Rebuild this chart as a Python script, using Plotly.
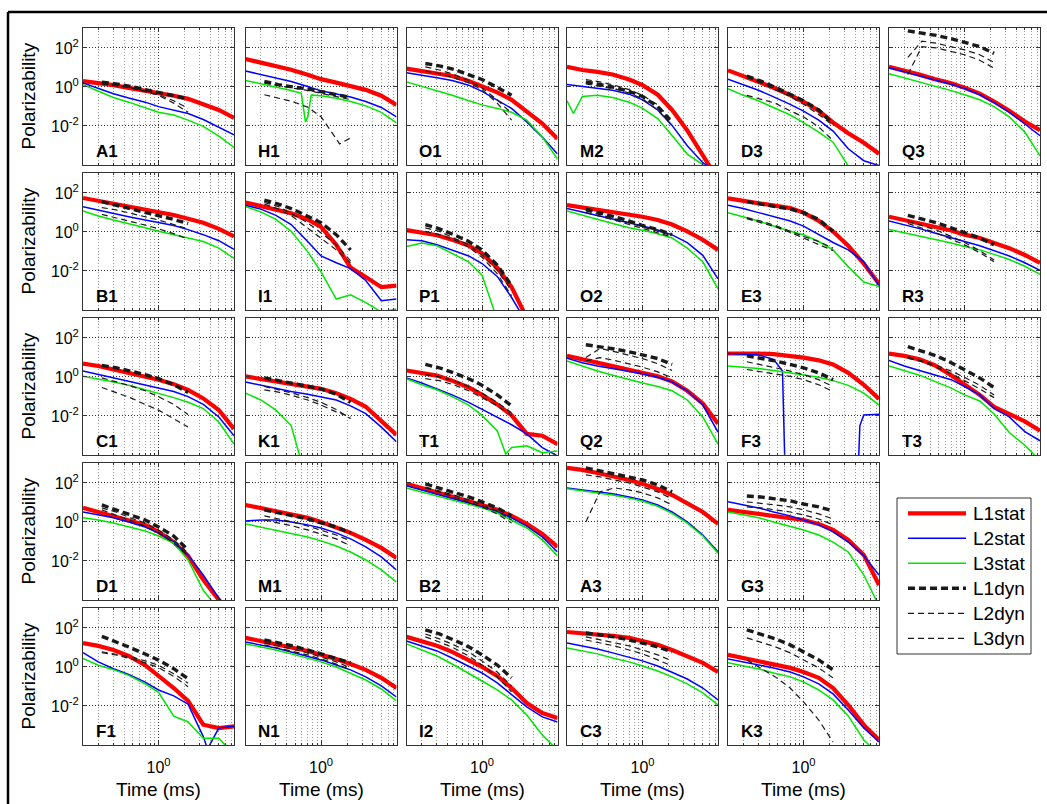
import plotly.graph_objects as go

# ---------------------------------------------------------------- data
PANELS = ["A1", "H1", "O1", "M2", "D3", "Q3",
          "B1", "I1", "P1", "O2", "E3", "R3",
          "C1", "K1", "T1", "Q2", "F3", "T3",
          "D1", "M1", "B2", "A3", "G3",
          "F1", "N1", "I2", "C3", "K3"]

# sampling times (ms)
T_STAT = [0.133, 0.2, 0.3, 0.45, 0.7, 1.0, 1.5, 2.2, 3.3, 5.0, 7.5]
T_DYN = [0.22, 0.32, 0.47, 0.7, 1.0, 1.5, 2.2]

# log10 polarizability, one row per panel (order of PANELS)
L1STAT = [
    [0.30, 0.21, 0.09, -0.05, -0.19, -0.31, -0.45, -0.61, -0.92, -1.18, -1.58],   # A1
    [1.43, 1.25, 1.07, 0.88, 0.62, 0.40, 0.22, 0.05, -0.15, -0.45, -0.92],        # H1
    [0.94, 0.82, 0.70, 0.56, 0.30, 0.03, -0.28, -0.66, -1.27, -1.88, -2.66],      # O1
    [1.03, 0.87, 0.77, 0.64, 0.38, 0.09, -0.40, -1.18, -2.23, -3.44, -4.75],      # M2
    [0.85, 0.55, 0.30, -0.04, -0.42, -0.76, -1.22, -1.82, -2.37, -2.86, -3.42],   # D3
    [1.03, 0.84, 0.63, 0.40, 0.19, -0.04, -0.34, -0.75, -1.22, -1.77, -2.22],     # Q3
    [1.74, 1.60, 1.46, 1.30, 1.17, 1.03, 0.87, 0.68, 0.47, 0.16, -0.23],          # B1
    [1.51, 1.34, 1.13, 0.96, 0.64, 0.26, -0.66, -1.83, -2.31, -2.83, -2.75],      # I1
    [0.09, -0.02, -0.17, -0.40, -0.70, -1.10, -1.83, -2.83, -4.40, -5.5, -6.5],   # P1
    [1.37, 1.25, 1.13, 1.03, 0.90, 0.78, 0.61, 0.38, 0.03, -0.40, -0.92],         # O2
    [1.72, 1.60, 1.51, 1.37, 1.22, 0.99, 0.57, 0.02, -0.70, -1.63, -2.66],        # E3
    [0.78, 0.61, 0.43, 0.26, 0.07, -0.14, -0.31, -0.57, -0.83, -1.18, -1.58],     # R3
    [0.68, 0.56, 0.38, 0.21, 0.03, -0.14, -0.37, -0.66, -1.10, -1.70, -2.66],     # C1
    [0.03, -0.09, -0.23, -0.37, -0.49, -0.61, -0.83, -1.13, -1.53, -2.23, -2.97], # K1
    [0.33, 0.21, 0.07, -0.19, -0.54, -0.92, -1.41, -1.97, -2.92, -3.01, -3.44],   # T1
    [1.08, 0.90, 0.73, 0.56, 0.38, 0.24, 0.03, -0.23, -0.71, -1.36, -2.40],       # Q2
    [1.20, 1.22, 1.20, 1.17, 1.08, 0.99, 0.85, 0.64, 0.21, -0.40, -1.13],         # F3
    [1.20, 1.08, 0.90, 0.60, 0.09, -0.40, -0.92, -1.53, -1.93, -2.28, -2.75],     # T3
    [0.72, 0.51, 0.31, 0.10, -0.15, -0.51, -1.03, -1.74, -2.97, -4.0, -4.8],      # D1
    [0.87, 0.72, 0.56, 0.41, 0.21, 0.0, -0.26, -0.56, -0.92, -1.33, -1.85],       # M1
    [1.95, 1.74, 1.54, 1.33, 1.08, 0.87, 0.62, 0.31, -0.10, -0.62, -1.28],        # B2
    [2.77, 2.67, 2.51, 2.36, 2.15, 1.95, 1.69, 1.38, 0.97, 0.51, -0.10],          # A3
    [0.62, 0.51, 0.41, 0.31, 0.21, 0.10, -0.10, -0.41, -0.92, -1.69, -3.23],      # G3
    [1.22, 1.08, 0.87, 0.56, 0.09, -0.43, -1.08, -1.74, -2.96, -3.13, -3.04],     # F1
    [1.49, 1.33, 1.18, 1.03, 0.82, 0.62, 0.41, 0.15, -0.15, -0.56, -1.08],        # N1
    [1.54, 1.33, 1.08, 0.77, 0.36, 0.0, -0.46, -1.08, -1.85, -2.36, -2.62],       # I2
    [1.79, 1.74, 1.69, 1.59, 1.49, 1.33, 1.13, 0.87, 0.56, 0.21, -0.26],          # C3
    [0.62, 0.46, 0.31, 0.15, -0.05, -0.26, -0.56, -1.08, -1.95, -2.97, -3.74],    # K3
]

L2STAT = [
    [0.21, -0.09, -0.35, -0.57, -0.78, -1.01, -1.18, -1.36, -1.67, -2.05, -2.45], # A1
    [0.82, 0.64, 0.47, 0.28, 0.02, -0.20, -0.36, -0.52, -0.75, -1.05, -1.53],     # H1
    [0.73, 0.61, 0.47, 0.33, 0.09, -0.23, -0.66, -1.10, -1.79, -2.57, -3.44],     # O1
    [0.12, 0.03, -0.05, -0.17, -0.37, -0.66, -1.18, -1.97, -3.01, -3.88, -4.40],  # M2
    [0.40, 0.12, -0.17, -0.51, -0.89, -1.24, -1.70, -2.26, -3.17, -3.78, -4.03],  # D3
    [0.98, 0.78, 0.58, 0.36, 0.14, -0.08, -0.40, -0.80, -1.30, -1.90, -2.50],     # Q3
    [1.29, 1.11, 0.96, 0.78, 0.61, 0.47, 0.33, 0.12, -0.14, -0.45, -0.89],        # B1
    [1.37, 1.17, 0.85, 0.38, -0.49, -1.23, -1.58, -1.88, -2.49, -3.53, -3.44],    # I1
    [-0.40, -0.45, -0.66, -0.92, -1.23, -1.62, -2.28, -3.36, -4.7, -6.0, -7.0],   # P1
    [1.20, 1.02, 0.85, 0.68, 0.47, 0.30, 0.10, -0.15, -0.55, -1.20, -2.40],       # O2
    [1.37, 1.20, 0.99, 0.78, 0.56, 0.30, -0.14, -0.54, -0.92, -1.53, -2.75],      # E3
    [0.56, 0.38, 0.17, -0.05, -0.31, -0.49, -0.71, -0.96, -1.23, -1.58, -1.97],   # R3
    [0.30, 0.12, -0.05, -0.23, -0.40, -0.57, -0.75, -1.01, -1.41, -2.05, -3.01],  # C1
    [-0.26, -0.43, -0.61, -0.75, -0.89, -1.01, -1.18, -1.48, -1.88, -2.57, -3.32],# K1
    [-0.05, -0.31, -0.61, -0.92, -1.30, -1.65, -2.05, -2.45, -2.92, -3.62, -4.05],# T1
    [0.96, 0.73, 0.56, 0.42, 0.30, 0.16, -0.02, -0.26, -0.71, -1.44, -2.83],      # Q2
    [1.20, 1.17, 1.13, 0.90, -6.0, -6.0, -6.0, -6.0, -6.0, -1.95, -1.91],         # F3
    [0.85, 0.56, 0.33, 0.12, -0.14, -0.49, -0.92, -1.62, -2.05, -2.80, -3.27],    # T3
    [0.51, 0.36, 0.21, 0.0, -0.26, -0.56, -1.03, -1.69, -2.72, -3.9, -4.8],       # D1
    [0.05, 0.10, 0.10, 0.0, -0.15, -0.31, -0.56, -0.87, -1.28, -1.79, -2.46],     # M1
    [1.85, 1.64, 1.44, 1.23, 0.97, 0.77, 0.51, 0.21, -0.21, -0.77, -1.54],        # B2
    [1.74, 1.64, 1.54, 1.44, 1.28, 1.13, 0.87, 0.51, 0.0, -0.67, -1.54],          # A3
    [1.03, 0.87, 0.72, 0.51, 0.31, 0.10, -0.15, -0.51, -1.03, -1.74, -2.72],      # G3
    [0.73, 0.26, -0.09, -0.38, -0.78, -1.18, -1.48, -1.91, -3.57, -3.13, -3.04],  # F1
    [1.28, 1.13, 0.97, 0.77, 0.56, 0.36, 0.10, -0.15, -0.51, -0.97, -1.54],       # N1
    [1.33, 1.08, 0.82, 0.46, 0.05, -0.31, -0.82, -1.44, -2.05, -2.56, -2.82],     # I2
    [1.23, 1.08, 0.92, 0.72, 0.51, 0.31, 0.05, -0.26, -0.62, -1.08, -1.69],       # C3
    [0.41, 0.26, 0.10, -0.05, -0.26, -0.51, -0.87, -1.38, -2.21, -3.13, -3.85],   # K3
]

L3STAT = [
    [0.12, -0.23, -0.54, -0.78, -1.06, -1.30, -1.44, -1.70, -2.02, -2.52, -3.10], # A1
    [0.33, 0.16, 0.0, -0.18, -1.55, -0.45, -0.58, -0.75, -0.97, -1.30, -1.84],    # H1
    [0.26, 0.03, -0.19, -0.43, -0.71, -0.92, -1.10, -1.30, -1.70, -2.57, -3.70],  # O1
    [-0.71, -0.49, -0.43, -0.54, -0.78, -1.10, -1.62, -2.49, -3.44, -3.98, -4.57],# M2
    [-0.09, -0.43, -0.71, -1.06, -1.44, -1.83, -2.31, -2.83, -4.05, -4.6, -5.0],  # D3
    [0.68, 0.47, 0.26, 0.03, -0.19, -0.40, -0.66, -1.01, -1.53, -2.31, -3.53],    # Q3
    [1.08, 0.82, 0.61, 0.43, 0.21, 0.03, -0.14, -0.31, -0.49, -0.83, -1.36],      # B1
    [1.30, 1.03, 0.64, 0.03, -1.01, -2.05, -3.44, -3.22, -3.62, -4.1, -3.95],     # I1
    [-0.75, -0.57, -0.71, -1.10, -1.53, -2.22, -4.5, -6.0, -7.0, -7.0, -7.0],     # P1
    [1.08, 0.85, 0.64, 0.43, 0.21, 0.09, -0.09, -0.31, -0.83, -1.53, -2.92],      # O2
    [0.99, 0.78, 0.56, 0.30, 0.03, -0.14, -0.49, -0.92, -1.79, -2.57, -2.80],     # E3
    [0.12, -0.05, -0.19, -0.37, -0.57, -0.75, -0.92, -1.15, -1.41, -1.76, -2.17], # R3
    [0.03, -0.10, -0.26, -0.43, -0.66, -0.83, -1.06, -1.30, -1.62, -2.31, -3.44], # C1
    [-0.83, -1.18, -1.70, -2.49, -5.5, -7.0, -7.0, -7.0, -7.0, -7.0, -7.0],       # K1
    [-0.09, -0.40, -0.66, -1.01, -1.44, -1.97, -2.75, -3.62, -3.53, -3.88, -3.79],# T1
    [0.82, 0.56, 0.30, 0.09, -0.14, -0.31, -0.49, -0.71, -1.18, -2.05, -3.44],    # Q2
    [0.56, 0.50, 0.43, 0.33, 0.21, 0.12, -0.02, -0.19, -0.43, -0.83, -1.44],      # F3
    [0.56, 0.33, 0.09, -0.23, -0.57, -0.92, -1.23, -1.90, -2.85, -3.50, -4.30],   # T3
    [0.21, 0.10, -0.05, -0.26, -0.46, -0.72, -1.08, -1.95, -3.5, -4.5, -5.0],     # D1
    [-0.10, -0.26, -0.41, -0.56, -0.77, -0.97, -1.23, -1.54, -1.95, -2.46, -3.08],# M1
    [1.74, 1.54, 1.33, 1.13, 0.92, 0.72, 0.46, 0.10, -0.31, -0.92, -1.74],        # B2
    [1.70, 1.60, 1.50, 1.38, 1.22, 1.06, 0.80, 0.44, -0.06, -0.72, -1.60],        # A3
    [0.51, 0.36, 0.21, 0.0, -0.21, -0.41, -0.67, -1.03, -1.54, -2.72, -4.3],      # G3
    [0.43, 0.09, -0.14, -0.43, -0.87, -1.30, -2.52, -2.82, -3.65, -3.65, -4.5],   # F1
    [1.18, 1.03, 0.87, 0.67, 0.46, 0.26, 0.0, -0.31, -0.67, -1.13, -1.74],        # N1
    [1.18, 0.87, 0.56, 0.15, -0.31, -0.72, -1.18, -1.69, -2.46, -3.49, -4.26],    # I2
    [0.97, 0.82, 0.67, 0.46, 0.26, 0.05, -0.21, -0.51, -0.87, -1.33, -1.95],      # C3
    [0.21, 0.05, -0.10, -0.31, -0.51, -0.77, -1.18, -1.69, -2.51, -3.74, -4.5],   # K3
]

L1DYN = [
    [0.24, 0.16, 0.03, -0.14, -0.31, -0.45, -0.61],   # A1
    [0.28, 0.12, 0.0, -0.10, -0.24, -0.38, -0.54],    # H1
    [1.20, 1.08, 0.90, 0.64, 0.38, -0.02, -0.43],     # O1
    [0.26, 0.12, -0.02, -0.23, -0.49, -1.01, -1.88],  # M2
    [0.56, 0.30, -0.02, -0.37, -0.71, -1.18, -1.88],  # D3
    [2.87, 2.77, 2.64, 2.47, 2.30, 2.07, 1.72],       # Q3
    [1.55, 1.37, 1.20, 1.03, 0.85, 0.64, 0.43],       # B1
    [1.63, 1.43, 1.17, 0.82, 0.47, -0.14, -0.92],     # I1
    [0.38, 0.16, -0.14, -0.49, -0.92, -1.70, -2.75],  # P1
    [1.17, 0.99, 0.78, 0.56, 0.33, 0.12, -0.14],      # O2
    [1.55, 1.43, 1.30, 1.17, 0.99, 0.64, 0.03],       # E3
    [0.85, 0.68, 0.47, 0.21, -0.02, -0.31, -0.66],    # R3
    [0.59, 0.47, 0.30, 0.12, -0.09, -0.40, -0.80],    # C1
    [-0.05, -0.19, -0.31, -0.45, -0.61, -0.89, -1.30],# K1
    [0.64, 0.47, 0.21, -0.09, -0.43, -0.92, -1.48],   # T1
    [1.65, 1.55, 1.43, 1.29, 1.13, 0.94, 0.64],       # Q2
    [1.08, 0.96, 0.82, 0.64, 0.47, 0.21, -0.14],      # F3
    [1.55, 1.34, 1.08, 0.73, 0.38, -0.05, -0.54],     # T3
    [0.87, 0.62, 0.36, 0.10, -0.26, -0.72, -1.44],    # D1
    [0.62, 0.46, 0.31, 0.15, -0.05, -0.26, -0.56],    # M1
    [1.95, 1.74, 1.54, 1.28, 1.03, 0.72, 0.31],       # B2
    [2.77, 2.62, 2.46, 2.31, 2.15, 1.90, 1.54],       # A3
    [1.33, 1.28, 1.18, 1.08, 0.92, 0.77, 0.56],       # G3
    [1.57, 1.30, 0.99, 0.66, 0.35, -0.09, -0.61],     # F1
    [1.38, 1.23, 1.08, 0.87, 0.67, 0.46, 0.21],       # N1
    [1.90, 1.69, 1.38, 1.03, 0.62, 0.10, -0.56],      # I2
    [1.74, 1.64, 1.54, 1.38, 1.23, 1.03, 0.77],       # C3
    [1.90, 1.69, 1.44, 1.13, 0.77, 0.36, -0.15],      # K3
]

L2DYN = [
    [0.19, 0.10, -0.02, -0.23, -0.43, -0.83, -1.30],  # A1
    [0.20, 0.06, -0.06, -0.18, -0.32, -0.47, -0.65],  # H1
    [1.03, 0.87, 0.64, 0.33, -0.05, -0.66, -1.36],    # O1
    [0.38, 0.26, 0.09, -0.14, -0.43, -0.92, -1.70],   # M2
    [-0.43, -0.61, -0.83, -1.23, -1.53, -2.05, -2.75],# D3
    [1.51, 2.35, 2.24, 2.07, 1.90, 1.65, 1.25],       # Q3
    [1.25, 1.13, 0.96, 0.78, 0.61, 0.38, 0.16],       # B1
    [1.51, 1.30, 0.90, 0.47, -0.05, -0.66, -1.48],    # I1
    [0.21, 0.03, -0.31, -0.66, -1.18, -1.97, -3.01],  # P1
    [1.08, 0.90, 0.68, 0.47, 0.26, 0.03, -0.19],      # O2
    [0.73, 0.56, 0.33, 0.03, -0.23, -0.49, -0.83],    # E3
    [0.56, 0.33, 0.09, -0.23, -0.54, -0.96, -1.44],   # R3
    [-0.05, -0.23, -0.45, -0.71, -1.01, -1.41, -1.93],# C1
    [-0.49, -0.66, -0.83, -1.06, -1.30, -1.67, -2.14],# K1
    [0.12, 0.0, -0.19, -0.49, -0.83, -1.30, -1.83],   # T1
    [0.99, 1.46, 1.30, 1.13, 0.94, 0.68, 0.33],       # Q2
    [0.78, 0.64, 0.47, 0.30, 0.12, -0.14, -0.49],     # F3
    [1.03, 0.82, 0.61, 0.30, -0.02, -0.43, -0.92],    # T3
    [0.72, 0.51, 0.21, -0.05, -0.41, -0.92, -1.59],   # D1
    [0.31, 0.15, 0.0, -0.21, -0.41, -0.67, -0.97],    # M1
    [1.79, 1.59, 1.38, 1.13, 0.87, 0.56, 0.10],       # B2
    [2.41, 2.31, 2.15, 2.0, 1.79, 1.54, 1.18],        # A3
    [1.03, 0.97, 0.87, 0.77, 0.62, 0.41, 0.15],       # G3
    [0.78, 0.66, 0.52, 0.31, 0.09, -0.35, -0.83],     # F1
    [1.23, 1.08, 0.92, 0.72, 0.51, 0.26, -0.05],      # N1
    [1.69, 1.44, 1.13, 0.77, 0.31, -0.26, -0.97],     # I2
    [1.54, 1.38, 1.23, 1.08, 0.87, 0.62, 0.31],       # C3
    [1.49, 1.28, 1.03, 0.72, 0.36, -0.05, -0.56],     # K3
]

L3DYN = [
    [0.16, 0.07, -0.05, -0.23, -0.40, -0.71, -1.10],  # A1
    [-0.40, -0.57, -0.75, -1.04, -1.53, -2.66, -2.61],# H1
    [0.82, 0.68, 0.47, 0.21, -0.14, -0.83, -1.70],    # O1
    [0.16, 0.03, -0.10, -0.31, -0.61, -1.18, -1.97],  # M2
    [0.47, 0.21, -0.14, -0.49, -0.89, -1.41, -1.97],  # D3
    [0.64, 2.07, 2.00, 1.83, 1.65, 1.37, 0.96],       # Q3
    [0.90, 0.73, 0.56, 0.35, 0.16, -0.09, -0.37],     # B1
    [1.43, 1.17, 0.78, 0.21, -0.31, -0.92, -1.58],    # I1
    [0.03, -0.14, -0.40, -0.78, -1.30, -2.14, -3.27], # P1
    [0.99, 0.82, 0.61, 0.38, 0.17, -0.05, -0.26],     # O2
    [0.68, 0.47, 0.26, -0.02, -0.31, -0.61, -0.96],   # E3
    [0.43, 0.21, -0.05, -0.37, -0.66, -1.06, -1.53],  # R3
    [-0.54, -0.78, -1.06, -1.41, -1.70, -2.14, -2.57],# C1
    [-0.66, -0.78, -0.96, -1.18, -1.44, -1.79, -2.05],# K1
    [-0.09, -0.19, -0.40, -0.71, -1.06, -1.48, -1.97],# T1
    [0.82, 0.99, 0.85, 0.68, 0.50, 0.26, -0.05],      # Q2
    [0.38, 0.26, 0.16, 0.03, -0.14, -0.40, -0.75],    # F3
    [0.96, 0.78, 0.50, 0.16, -0.19, -0.61, -1.06],    # T3
    [0.62, 0.36, 0.10, -0.21, -0.56, -1.08, -1.74],   # D1
    [0.10, -0.05, -0.21, -0.41, -0.62, -0.87, -1.23], # M1
    [1.74, 1.54, 1.28, 1.03, 0.77, 0.41, -0.05],      # B2
    [0.0, 1.54, 1.74, 1.64, 1.49, 1.23, 0.87],        # A3
    [0.77, 0.72, 0.62, 0.51, 0.36, 0.15, -0.15],      # G3
    [0.73, 0.61, 0.43, 0.21, -0.03, -0.49, -1.01],    # F1
    [1.13, 0.97, 0.82, 0.62, 0.41, 0.15, -0.15],      # N1
    [1.54, 1.28, 0.97, 0.56, 0.10, -0.51, -1.28],     # I2
    [1.38, 1.23, 1.08, 0.87, 0.67, 0.36, 0.05],       # C3
    [0.36, -0.05, -0.51, -1.08, -1.79, -2.72, -3.85], # K3
]

# additional samples where a curve has a sharp feature between the regular times
H1_L3STAT_T, H1_L3STAT_V = [0.59, 0.66, 0.77], [-0.33, -1.79, -0.42]
M2_L3STAT_T, M2_L3STAT_V = [0.158], [-1.36]
F3_L2STAT_T, F3_L2STAT_V = [0.57, 0.62, 4.2, 4.5], [0.30, -6.0, -6.0, -2.49]
F1_L2STAT_T, F1_L2STAT_V = [3.7], [-4.2]
T1_L3STAT_T, T1_L3STAT_V = [1.88], [-3.95]
H1_L3DYN_T, H1_L3DYN_V = [1.64], [-2.92]

EXTRA = [("H1", "L3stat", H1_L3STAT_T, H1_L3STAT_V),
         ("M2", "L3stat", M2_L3STAT_T, M2_L3STAT_V),
         ("F3", "L2stat", F3_L2STAT_T, F3_L2STAT_V),
         ("F1", "L2stat", F1_L2STAT_T, F1_L2STAT_V),
         ("T1", "L3stat", T1_L3STAT_T, T1_L3STAT_V),
         ("H1", "L3dyn", H1_L3DYN_T, H1_L3DYN_V)]

SERIES = ["L1stat", "L2stat", "L3stat", "L1dyn", "L2dyn", "L3dyn"]
SERIES_DATA = {"L1stat": (T_STAT, L1STAT), "L2stat": (T_STAT, L2STAT),
               "L3stat": (T_STAT, L3STAT), "L1dyn": (T_DYN, L1DYN),
               "L2dyn": (T_DYN, L2DYN), "L3dyn": (T_DYN, L3DYN)}

X_MINOR = [0.2, 0.3, 0.4, 0.5, 0.6, 0.7, 0.8, 0.9, 2, 3, 4, 5, 6, 7]
Y_TICKS = [1e-2, 1, 1e2]
Y_TICKTEXT = ["10<sup>-2</sup>", "10<sup>0</sup>", "10<sup>2</sup>"]

# ---------------------------------------------------------------- styling
W, H = 1047, 804
COL_LEFT = [83, 245.5, 406.5, 567, 728, 889]
ROW_TOP = [28, 173, 318, 463, 608]
PW, PH = 151, 137
FONT = "Liberation Sans, Arial, Helvetica, sans-serif"
INK = "#1a1a1a"

STYLE = {
    "L1stat": dict(color="#ff0000", width=4.2, dash="solid"),
    "L2stat": dict(color="#0000ff", width=1.5, dash="solid"),
    "L3stat": dict(color="#00e600", width=1.5, dash="solid"),
    "L1dyn": dict(color=INK, width=3.4, dash="7px,4px"),
    "L2dyn": dict(color=INK, width=1.2, dash="6px,4px"),
    "L3dyn": dict(color=INK, width=1.2, dash="6px,4px"),
}


def px(x):
    return x / W


def py(y):
    return 1 - y / H


positions = []
for r in range(3):
    for c in range(6):
        positions.append((r, c))
for r in (3, 4):
    for c in range(5):
        positions.append((r, c))

fig = go.Figure()
layout = dict(width=W, height=H, margin=dict(l=0, r=0, t=0, b=0),
              paper_bgcolor="white", plot_bgcolor="white",
              showlegend=False, font=dict(family=FONT, color="black"))
annotations = []
shapes = []

for i, name in enumerate(PANELS):
    r, c = positions[i]
    k = i + 1
    sfx = "" if k == 1 else str(k)
    left, top = COL_LEFT[c], ROW_TOP[r]
    is_bottom = (r == 4)

    layout["xaxis" + sfx] = dict(
        type="log", range=[-0.876, 0.875],
        domain=[px(left), px(left + PW)], anchor="y" + sfx,
        showline=True, linecolor="#333333", linewidth=1, mirror="ticks",
        ticks="inside", ticklen=4, tickcolor="#333333",
        tickmode="array", tickvals=[1], ticktext=["10<sup>0</sup>"],
        showticklabels=is_bottom, tickfont=dict(size=16),
        ticklabelstandoff=8,
        showgrid=True, gridcolor="#333333", griddash="1px,2px", gridwidth=1,
        minor=dict(tickmode="array", tickvals=X_MINOR, ticks="inside",
                   ticklen=2, tickcolor="#333333", showgrid=True,
                   gridcolor="#9a9a9a", griddash="1px,2px", gridwidth=1),
        zeroline=False, fixedrange=True)
    layout["yaxis" + sfx] = dict(
        type="log", range=[-4.0, 3.02],
        domain=[py(top + PH), py(top)], anchor="x" + sfx,
        showline=True, linecolor="#333333", linewidth=1, mirror="ticks",
        ticks="inside", ticklen=4, tickcolor="#333333",
        tickmode="array", tickvals=Y_TICKS, ticktext=Y_TICKTEXT,
        showticklabels=(c == 0), tickfont=dict(size=16),
        showgrid=True, gridcolor="#333333", griddash="1px,2px", gridwidth=1,
        zeroline=False, fixedrange=True)

    for s in SERIES:
        times, table = SERIES_DATA[s]
        pts = list(zip(times, table[i]))
        for (pn, sn, et, ev) in EXTRA:
            if pn == name and sn == s:
                pts += list(zip(et, ev))
        pts.sort()
        fig.add_trace(go.Scatter(
            x=[p[0] for p in pts], y=[10 ** p[1] for p in pts],
            mode="lines", name=s, line=STYLE[s],
            xaxis="x" + sfx, yaxis="y" + sfx, hoverinfo="skip"))

    # panel name, bottom-left inside the axes
    annotations.append(dict(
        text="<b>%s</b>" % name, xref="x%s domain" % sfx, yref="y%s domain" % sfx,
        x=0.07, y=0.1, xanchor="left", yanchor="middle", showarrow=False,
        font=dict(size=17, family=FONT, color="black")))

# row labels
for r in range(5):
    annotations.append(dict(
        text="Polarizability", xref="paper", yref="paper",
        x=px(28), y=py(ROW_TOP[r] + PH / 2), textangle=-90,
        xanchor="center", yanchor="middle", showarrow=False,
        font=dict(size=19, family=FONT, color="black")))

# column labels under the bottom row
for c in range(5):
    annotations.append(dict(
        text="Time (ms)", xref="paper", yref="paper",
        x=px(COL_LEFT[c] + PW / 2), y=py(789),
        xanchor="center", yanchor="middle", showarrow=False,
        font=dict(size=19, family=FONT, color="black")))

# legend box
shapes.append(dict(type="rect", xref="paper", yref="paper",
                   x0=px(897), x1=px(1031), y0=py(654), y1=py(498),
                   line=dict(color="#333333", width=1), fillcolor="white"))
for j, s in enumerate(SERIES):
    yy = 513.3 + 25 * j
    st = STYLE[s]
    shapes.append(dict(type="line", xref="paper", yref="paper",
                       x0=px(908), x1=px(966), y0=py(yy), y1=py(yy),
                       line=dict(color=st["color"], width=st["width"],
                                 dash=st["dash"])))
    annotations.append(dict(
        text=s, xref="paper", yref="paper", x=px(971), y=py(yy),
        xanchor="left", yanchor="middle", showarrow=False,
        font=dict(size=19, family=FONT, color="black")))

# outer frame (top and left edges)
shapes.append(dict(type="line", xref="paper", yref="paper",
                   x0=px(8), x1=px(W + 5), y0=py(12), y1=py(12),
                   line=dict(color="black", width=2.5)))
shapes.append(dict(type="line", xref="paper", yref="paper",
                   x0=px(8), x1=px(8), y0=py(12), y1=py(H + 5),
                   line=dict(color="black", width=2.5)))

layout["annotations"] = annotations
layout["shapes"] = shapes
fig.update_layout(**layout)
fig.write_html("out.html")
